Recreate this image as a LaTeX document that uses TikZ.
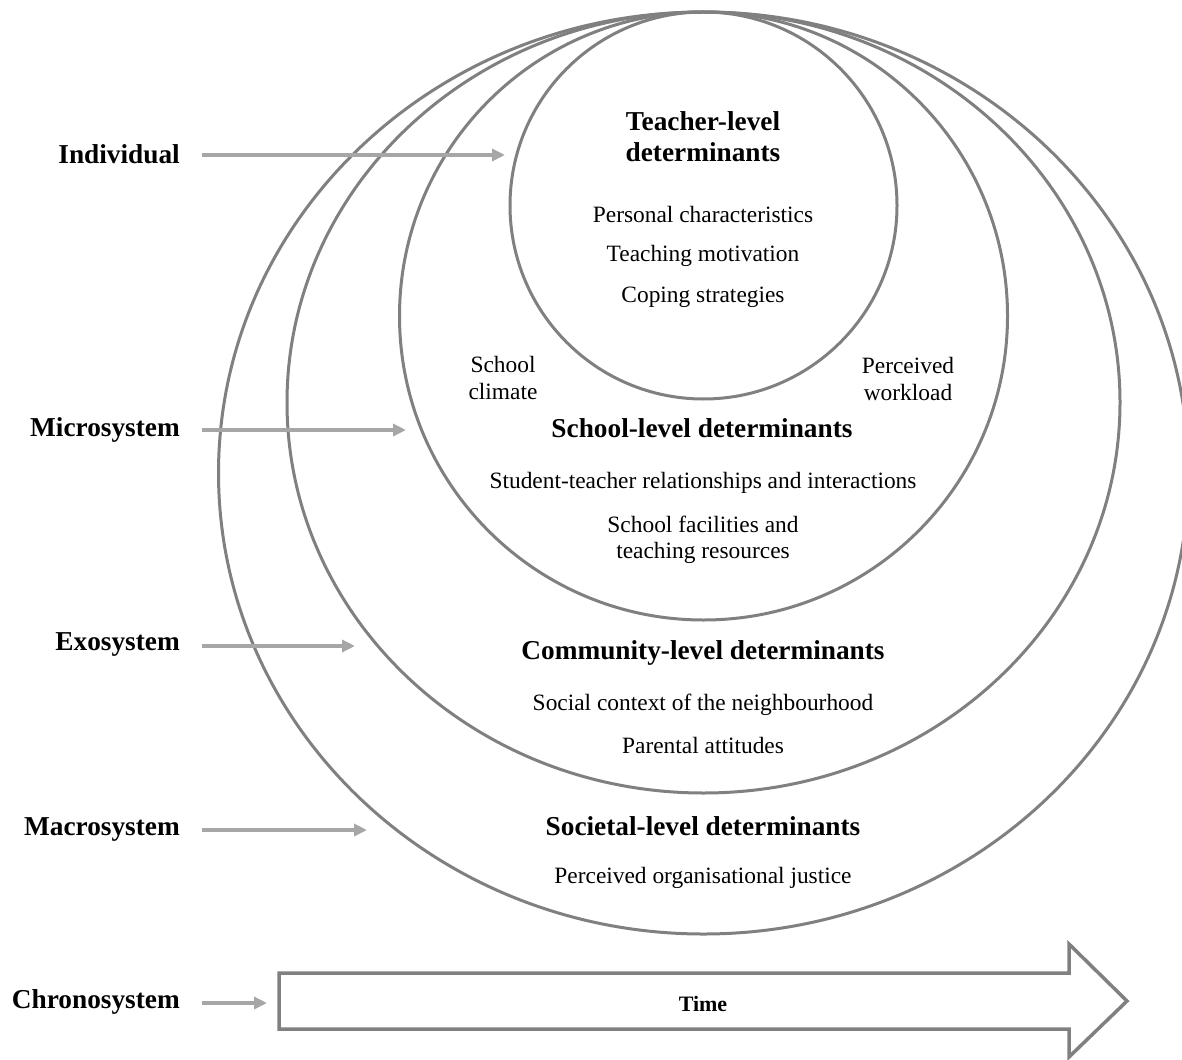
\documentclass[tikz,border=0pt]{standalone}
\usepackage{fontspec}
\setmainfont{Liberation Serif}
\usetikzlibrary{arrows.meta}
\definecolor{ringgray}{HTML}{808080}
\definecolor{arrowgray}{HTML}{A6A6A6}
\tikzset{
  ring/.style={draw=ringgray, line width=3pt},
  sysarrow/.style={draw=arrowgray, line width=3.5pt, -{Triangle[length=13pt,width=12pt]}},
  syslabel/.style={anchor=east, font=\fontsize{27.3}{30}\selectfont\bfseries, inner sep=0pt},
  head/.style={font=\fontsize{27.3}{31}\selectfont\bfseries, align=center, inner sep=0pt},
  item/.style={font=\fontsize{23.4}{26.5}\selectfont, align=center, inner sep=0pt},
  timebox/.style={draw=ringgray, line width=3.5pt, line join=miter, fill=white},
}
\begin{document}
\begin{tikzpicture}[x=1pt,y=-1pt]
\useasboundingbox (0,0) rectangle (1182,1059);
\clip (0,0) rectangle (1182,1059);

% nested ecological rings, all touching at the top
\draw[ring] (703.5,473)   ellipse [x radius=485pt,   y radius=461pt];
\draw[ring] (703.5,402.5) ellipse [x radius=416.5pt, y radius=390.5pt];
\draw[ring] (703.5,316)   ellipse [x radius=304pt,   y radius=304pt];
\draw[ring] (703.5,205.5) ellipse [x radius=193.5pt, y radius=193.5pt];

% teacher level
\node[head] (teach) at (703,137) {Teacher-level\\determinants};
\node[item] (pers) at (703,214) {Personal characteristics};
\node[item] (motiv) at (703,256) {Teaching motivation};
\node[item] (coping) at (703,297) {Coping strategies};

% school level
\node[item] (climate) at (503,378) {School\\climate};
\node[item] (workload) at (908,379) {Perceived\\workload};
\node[head] (school) at (702,428) {School-level determinants};
\node[item] (rel) at (703,483) {Student-teacher relationships and interactions};
\node[item] (facil) at (703,540) {School facilities and\\teaching resources};

% community level
\node[head] (comm) at (703,653) {Community-level determinants};
\node[item] (social) at (703,705) {Social context of the neighbourhood};
\node[item] (parent) at (703,745) {Parental attitudes};

% societal level
\node[head] (soc) at (703,826) {Societal-level determinants};
\node[item] (justice) at (703,878) {Perceived organisational justice};

% time arrow
\coordinate (tl) at (279,973);
\draw[timebox] (tl) -- (1069,973) -- (1069,944) -- (1127,1001)
  -- (1069,1057) -- (1069,1029) -- (279,1029) -- cycle;
\node[font=\fontsize{22}{24}\selectfont\bfseries, inner sep=0pt] (time) at (703,1004) {Time};

% system labels and their arrows
\node[syslabel] (ind)    at (180,154) {Individual};
\node[syslabel] (micro)  at (180,430) {Microsystem};
\node[syslabel] (exo)    at (180,645) {Exosystem};
\node[syslabel] (macro)  at (180,829) {Macrosystem};
\node[syslabel] (chrono) at (180,1002) {Chronosystem};

\coordinate (indtip)    at (505,155);
\coordinate (microtip)  at (406,430);
\coordinate (exotip)    at (355,646);
\coordinate (macrotip)  at (367,830);
\coordinate (chronotip) at (267,1003);

\draw[sysarrow] ([xshift=22pt]ind.east |- indtip) -- (indtip);
\draw[sysarrow] ([xshift=22pt]micro.east |- microtip) -- (microtip);
\draw[sysarrow] ([xshift=22pt]exo.east |- exotip) -- (exotip);
\draw[sysarrow] ([xshift=22pt]macro.east |- macrotip) -- (macrotip);
\draw[sysarrow] ([xshift=22pt]chrono.east |- chronotip) -- (chronotip);
\end{tikzpicture}
\end{document}
